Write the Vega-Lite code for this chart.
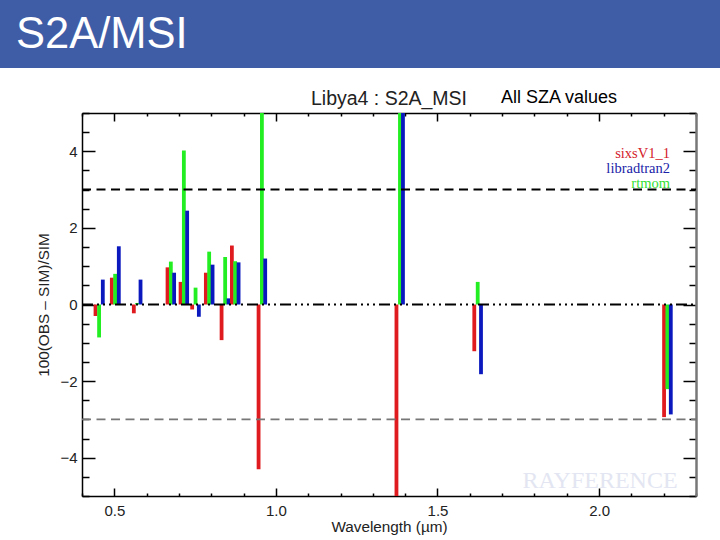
{
  "$schema": "https://vega.github.io/schema/vega-lite/v6.json",
  "width": 614,
  "height": 383,
  "autosize": "none",
  "padding": {"left": 82, "top": 113, "right": 24, "bottom": 44},
  "background": "white",
  "config": {
    "view": {"stroke": null},
    "font": "Liberation Sans",
    "axis": {"grid": false, "tickColor": "black", "domainColor": "black", "domainWidth": 1.5, "tickWidth": 1.5, "labelFont": "Liberation Sans", "titleFont": "Liberation Sans", "labelFontSize": 15, "titleFontSize": 15.3, "titleFontWeight": "normal", "labelColor": "#222", "titleColor": "#222"}
  },
  "resolve": {"axis": {"x": "independent", "y": "independent"}},
  "layer": [
    {
      "data": {"values": [{"band": "header"}]},
      "mark": {"type": "rect", "color": "#3F5DA7", "clip": false},
      "encoding": {
        "x": {"datum": 0.14625, "type": "quantitative", "axis": null, "scale": {"domain": [0.4, 2.3], "nice": false, "zero": false}},
        "x2": {"datum": 2.37427},
        "y": {"datum": 7.95, "type": "quantitative", "axis": null, "scale": {"domain": [-5, 5], "nice": false, "zero": false}},
        "y2": {"datum": 6.175}
      }
    },
    {
      "data": {
        "values": [
          {"wavelength": 0.4418, "series": "sixsV1_1", "value": -0.3},
          {"wavelength": 0.4529, "series": "rtmom", "value": -0.86},
          {"wavelength": 0.4644, "series": "libradtran2", "value": 0.65},
          {"wavelength": 0.4923, "series": "sixsV1_1", "value": 0.7},
          {"wavelength": 0.5025, "series": "rtmom", "value": 0.8},
          {"wavelength": 0.5139, "series": "libradtran2", "value": 1.52},
          {"wavelength": 0.5604, "series": "sixsV1_1", "value": -0.23},
          {"wavelength": 0.5706, "series": "rtmom", "value": 0.04},
          {"wavelength": 0.5811, "series": "libradtran2", "value": 0.65},
          {"wavelength": 0.6647, "series": "sixsV1_1", "value": 0.97},
          {"wavelength": 0.6749, "series": "rtmom", "value": 1.12},
          {"wavelength": 0.6851, "series": "libradtran2", "value": 0.83},
          {"wavelength": 0.705, "series": "sixsV1_1", "value": 0.59},
          {"wavelength": 0.7152, "series": "rtmom", "value": 4.02},
          {"wavelength": 0.7254, "series": "libradtran2", "value": 2.45},
          {"wavelength": 0.7409, "series": "sixsV1_1", "value": -0.13},
          {"wavelength": 0.7514, "series": "rtmom", "value": 0.44},
          {"wavelength": 0.7616, "series": "libradtran2", "value": -0.32},
          {"wavelength": 0.7833, "series": "sixsV1_1", "value": 0.83},
          {"wavelength": 0.7935, "series": "rtmom", "value": 1.38},
          {"wavelength": 0.804, "series": "libradtran2", "value": 1.04},
          {"wavelength": 0.8319, "series": "sixsV1_1", "value": -0.93},
          {"wavelength": 0.843, "series": "rtmom", "value": 1.24},
          {"wavelength": 0.8536, "series": "libradtran2", "value": 0.16},
          {"wavelength": 0.8638, "series": "sixsV1_1", "value": 1.54},
          {"wavelength": 0.874, "series": "rtmom", "value": 1.13},
          {"wavelength": 0.8845, "series": "libradtran2", "value": 1.1},
          {"wavelength": 0.9464, "series": "sixsV1_1", "value": -4.3},
          {"wavelength": 0.9567, "series": "rtmom", "value": 6},
          {"wavelength": 0.9669, "series": "libradtran2", "value": 1.2},
          {"wavelength": 1.3731, "series": "sixsV1_1", "value": -6},
          {"wavelength": 1.3839, "series": "rtmom", "value": 6},
          {"wavelength": 1.3932, "series": "libradtran2", "value": 6},
          {"wavelength": 1.6139, "series": "sixsV1_1", "value": -1.22},
          {"wavelength": 1.6245, "series": "rtmom", "value": 0.59},
          {"wavelength": 1.6347, "series": "libradtran2", "value": -1.82},
          {"wavelength": 2.2012, "series": "sixsV1_1", "value": -2.94},
          {"wavelength": 2.2115, "series": "rtmom", "value": -2.21},
          {"wavelength": 2.222, "series": "libradtran2", "value": -2.87}
        ]
      },
      "mark": {"type": "rule", "strokeWidth": 3.8, "clip": true},
      "encoding": {
        "x": {"field": "wavelength", "type": "quantitative", "axis": null, "scale": {"domain": [0.4, 2.3], "nice": false, "zero": false}},
        "y": {"field": "value", "type": "quantitative", "axis": null, "scale": {"domain": [-5, 5], "nice": false, "zero": false}},
        "y2": {"datum": 0},
        "color": {
          "field": "series",
          "type": "nominal",
          "legend": null,
          "scale": {"domain": ["sixsV1_1", "libradtran2", "rtmom"], "range": ["#E01B1F", "#0A18BE", "#22EE22"]}
        }
      }
    },
    {
      "data": {"values": [{"level": 0, "from": 0.4, "to": 2.3}]},
      "mark": {"type": "rule", "color": "black", "strokeWidth": 2, "strokeDash": [11, 4, 2, 4, 2, 4, 2, 4]},
      "encoding": {
        "x": {
          "field": "from",
          "type": "quantitative",
          "scale": {"domain": [0.4, 2.3], "nice": false, "zero": false},
          "axis": {
            "orient": "bottom",
            "title": "Wavelength (µm)",
            "values": [0.4, 0.5, 0.6, 0.7, 0.8, 0.9, 1.0, 1.1, 1.2, 1.3, 1.4, 1.5, 1.6, 1.7, 1.8, 1.9, 2.0, 2.1, 2.2, 2.3],
            "labelExpr": "abs(datum.value * 2 - round(datum.value * 2)) < 0.001 ? format(datum.value, '.1f') : ''",
            "tickSize": {"condition": {"test": "abs(datum.value * 2 - round(datum.value * 2)) < 0.001", "value": -8}, "value": -3},
            "labelPadding": 15,
            "titlePadding": 1
          }
        },
        "x2": {"field": "to"},
        "y": {
          "field": "level",
          "type": "quantitative",
          "scale": {"domain": [-5, 5], "nice": false, "zero": false},
          "axis": {
            "orient": "left",
            "title": "100(OBS – SIM)/SIM",
            "values": [-5, -4.5, -4, -3.5, -3, -2.5, -2, -1.5, -1, -0.5, 0, 0.5, 1, 1.5, 2, 2.5, 3, 3.5, 4, 4.5, 5],
            "labelExpr": "datum.value % 2 == 0 ? format(datum.value, 'd') : ''",
            "tickSize": {"condition": {"test": "datum.value % 2 == 0", "value": -13}, "value": -7},
            "labelPadding": 18,
            "titlePadding": 8
          }
        }
      }
    },
    {
      "data": {"values": [{"level": 3, "from": 0.4, "to": 2.3}]},
      "mark": {"type": "rule", "color": "black", "strokeWidth": 2, "strokeDash": [9, 5.5]},
      "encoding": {
        "x": {
          "field": "from",
          "type": "quantitative",
          "scale": {"domain": [0.4, 2.3], "nice": false, "zero": false},
          "axis": {
            "orient": "top",
            "title": null,
            "labels": false,
            "values": [0.4, 0.5, 0.6, 0.7, 0.8, 0.9, 1.0, 1.1, 1.2, 1.3, 1.4, 1.5, 1.6, 1.7, 1.8, 1.9, 2.0, 2.1, 2.2, 2.3],
            "tickSize": {"condition": {"test": "abs(datum.value * 2 - round(datum.value * 2)) < 0.001", "value": -8}, "value": -3}
          }
        },
        "x2": {"field": "to"},
        "y": {
          "field": "level",
          "type": "quantitative",
          "scale": {"domain": [-5, 5], "nice": false, "zero": false},
          "axis": {
            "orient": "right",
            "title": null,
            "labels": false,
            "domainColor": "#777",
            "domainWidth": 2.5,
            "values": [-5, -4.5, -4, -3.5, -3, -2.5, -2, -1.5, -1, -0.5, 0, 0.5, 1, 1.5, 2, 2.5, 3, 3.5, 4, 4.5, 5],
            "tickSize": {"condition": {"test": "datum.value % 2 == 0", "value": -13}, "value": -7}
          }
        }
      }
    },
    {
      "data": {"values": [{"level": -3, "from": 0.4, "to": 2.3}]},
      "mark": {"type": "rule", "color": "#777", "strokeWidth": 1.6, "strokeDash": [9, 5.5]},
      "encoding": {
        "x": {"field": "from", "type": "quantitative", "axis": null, "scale": {"domain": [0.4, 2.3], "nice": false, "zero": false}},
        "x2": {"field": "to"},
        "y": {"field": "level", "type": "quantitative", "axis": null, "scale": {"domain": [-5, 5], "nice": false, "zero": false}}
      }
    },
    {
      "data": {"values": [{"label": "S2A/MSI"}]},
      "mark": {"type": "text", "align": "left", "baseline": "alphabetic", "fontSize": 43.5, "color": "white", "font": "Liberation Sans"},
      "encoding": {
        "text": {"field": "label"},
        "x": {"datum": 0.1958, "type": "quantitative", "axis": null, "scale": {"domain": [0.4, 2.3], "nice": false, "zero": false}},
        "y": {"datum": 6.697, "type": "quantitative", "axis": null, "scale": {"domain": [-5, 5], "nice": false, "zero": false}}
      }
    },
    {
      "data": {"values": [{"label": "Libya4 : S2A_MSI"}]},
      "mark": {"type": "text", "align": "center", "baseline": "alphabetic", "fontSize": 19.5, "color": "#222", "font": "Liberation Sans"},
      "encoding": {
        "text": {"field": "label"},
        "x": {"datum": 1.35, "type": "quantitative", "axis": null, "scale": {"domain": [0.4, 2.3], "nice": false, "zero": false}},
        "y": {"datum": 5.209, "type": "quantitative", "axis": null, "scale": {"domain": [-5, 5], "nice": false, "zero": false}}
      }
    },
    {
      "data": {"values": [{"label": "All SZA values"}]},
      "mark": {"type": "text", "align": "left", "baseline": "alphabetic", "fontSize": 18, "color": "black", "font": "Liberation Sans"},
      "encoding": {
        "text": {"field": "label"},
        "x": {"datum": 1.6966, "type": "quantitative", "axis": null, "scale": {"domain": [0.4, 2.3], "nice": false, "zero": false}},
        "y": {"datum": 5.261, "type": "quantitative", "axis": null, "scale": {"domain": [-5, 5], "nice": false, "zero": false}}
      }
    },
    {
      "data": {"values": [{"label": "sixsV1_1"}]},
      "mark": {"type": "text", "align": "right", "baseline": "alphabetic", "fontSize": 14.5, "color": "#D4202A", "font": "Liberation Serif"},
      "encoding": {
        "text": {"field": "label"},
        "x": {"datum": 2.2195, "type": "quantitative", "axis": null, "scale": {"domain": [0.4, 2.3], "nice": false, "zero": false}},
        "y": {"datum": 3.825, "type": "quantitative", "axis": null, "scale": {"domain": [-5, 5], "nice": false, "zero": false}}
      }
    },
    {
      "data": {"values": [{"label": "libradtran2"}]},
      "mark": {"type": "text", "align": "right", "baseline": "alphabetic", "fontSize": 14.5, "color": "#1A22A8", "font": "Liberation Serif"},
      "encoding": {
        "text": {"field": "label"},
        "x": {"datum": 2.2195, "type": "quantitative", "axis": null, "scale": {"domain": [0.4, 2.3], "nice": false, "zero": false}},
        "y": {"datum": 3.44, "type": "quantitative", "axis": null, "scale": {"domain": [-5, 5], "nice": false, "zero": false}}
      }
    },
    {
      "data": {"values": [{"label": "rtmom"}]},
      "mark": {"type": "text", "align": "right", "baseline": "alphabetic", "fontSize": 14.5, "color": "#33E033", "font": "Liberation Serif"},
      "encoding": {
        "text": {"field": "label"},
        "x": {"datum": 2.2195, "type": "quantitative", "axis": null, "scale": {"domain": [0.4, 2.3], "nice": false, "zero": false}},
        "y": {"datum": 3.04, "type": "quantitative", "axis": null, "scale": {"domain": [-5, 5], "nice": false, "zero": false}}
      }
    },
    {
      "data": {"values": [{"label": "RAYFERENCE"}]},
      "mark": {"type": "text", "align": "center", "baseline": "alphabetic", "fontSize": 24, "color": "#E3E6F2", "font": "Liberation Serif"},
      "encoding": {
        "text": {"field": "label"},
        "x": {"datum": 2.003, "type": "quantitative", "axis": null, "scale": {"domain": [0.4, 2.3], "nice": false, "zero": false}},
        "y": {"datum": -4.79, "type": "quantitative", "axis": null, "scale": {"domain": [-5, 5], "nice": false, "zero": false}}
      }
    }
  ]
}
